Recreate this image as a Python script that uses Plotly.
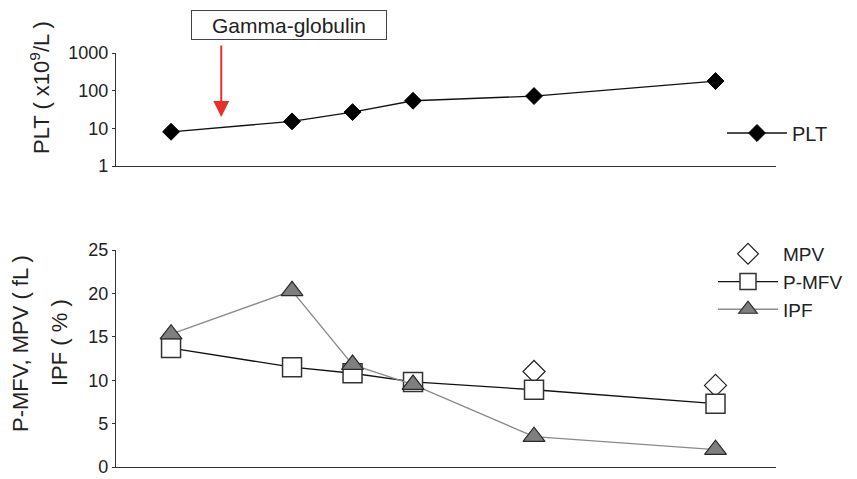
import plotly.graph_objects as go

# ---- data ----
time_points = [1, 3, 4, 5, 7, 10]
plt_vals = [8.1, 15.3, 27, 54, 72, 180]
mfv_vals = [13.7, 11.5, 10.8, 9.8, 8.9, 7.3]
ipf_vals = [15.3, 20.3, 11.8, 9.5, 3.5, 2.0]
mpv_x = [7, 10]
mpv_vals = [11.0, 9.4]
gamma_day = 1.83
top_ticks = [1, 10, 100, 1000]
bottom_ticks = [0, 5, 10, 15, 20, 25]

FONT = "Liberation Sans, Arial, sans-serif"
OFF = 8                      # page body margin
W, H = 857 - OFF, 479 - OFF  # figure size so it fits the window
L, R = 116 - OFF, 81
PW = W - L - R

def ypix(p):   # window pixel -> paper y
    return 1 - (p - OFF) / H

def xpix(p):   # window pixel -> paper x
    return (p - OFF - L) / PW

fig = go.Figure()

fig.add_trace(go.Scatter(
    x=time_points, y=plt_vals, mode="lines+markers", name="PLT",
    xaxis="x", yaxis="y", legend="legend",
    line=dict(color="#111111", width=1.3),
    marker=dict(symbol="diamond", size=13, color="#000000",
                line=dict(color="#000000", width=1)),
))

fig.add_trace(go.Scatter(
    x=mpv_x, y=mpv_vals, mode="markers", name="MPV",
    xaxis="x2", yaxis="y2", legend="legend2",
    marker=dict(symbol="diamond", size=17, color="white",
                line=dict(color="#222222", width=1.2)),
))
fig.add_trace(go.Scatter(
    x=time_points, y=mfv_vals, mode="lines+markers", name="P-MFV",
    xaxis="x2", yaxis="y2", legend="legend2",
    line=dict(color="#111111", width=1.3),
    marker=dict(symbol="square", size=19, color="white",
                line=dict(color="#333333", width=1.5)),
))
fig.add_trace(go.Scatter(
    x=time_points, y=ipf_vals, mode="lines+markers", name="IPF",
    xaxis="x2", yaxis="y2", legend="legend2",
    line=dict(color="#8a8a8a", width=1.3),
    marker=dict(symbol="triangle-up", size=19, color="#7f7f7f",
                line=dict(color="#2a2a2a", width=1.2)),
))

xr = [0.09, 11]
axis_common = dict(showline=True, linecolor="#333333", linewidth=1.2,
                   showgrid=False, zeroline=False, ticks="outside",
                   ticklen=3, tickcolor="#333333",
                   tickfont=dict(family=FONT, size=18, color="#222222"))

fig.update_layout(
    width=W, height=H,
    margin=dict(l=L, r=R, t=0, b=0, autoexpand=False),
    paper_bgcolor="white", plot_bgcolor="white",
    font=dict(family=FONT, color="#222222"),
    xaxis=dict(domain=[0, 1], range=xr, showline=True, linecolor="#333333",
               linewidth=1.2, showgrid=False, zeroline=False,
               showticklabels=False, ticks="", anchor="y"),
    yaxis=dict(domain=[ypix(166), ypix(53)], type="log", range=[0, 3],
               tickvals=top_ticks, ticktext=[str(t) for t in top_ticks],
               anchor="x", **axis_common),
    xaxis2=dict(domain=[0, 1], range=xr, showline=True, linecolor="#333333",
                linewidth=1.2, showgrid=False, zeroline=False,
                showticklabels=False, ticks="", anchor="y2"),
    yaxis2=dict(domain=[ypix(467), ypix(250)], range=[0, 25],
                tickvals=bottom_ticks, anchor="x2", **axis_common),
    legend=dict(x=xpix(722), y=ypix(133), xanchor="left", yanchor="middle",
                font=dict(family=FONT, size=20, color="#222222"),
                itemwidth=60, bgcolor="rgba(0,0,0,0)"),
    legend2=dict(x=xpix(713), y=ypix(235), xanchor="left", yanchor="top",
                 font=dict(family=FONT, size=19, color="#222222"),
                 itemwidth=60, bgcolor="rgba(0,0,0,0)", tracegroupgap=0),
    showlegend=True,
)

annotations = [
    dict(text="Gamma-globulin", xref="paper", yref="paper",
         x=xpix(289), y=ypix(25),
         xanchor="center", yanchor="middle", showarrow=False,
         font=dict(family=FONT, size=21, color="#222222"),
         bordercolor="#444444", borderwidth=1, borderpad=1,
         width=192, height=26, bgcolor="white"),
    dict(text="", x=gamma_day, y=1.30, xref="x", yref="y",
         ax=0, ay=-73, showarrow=True, arrowcolor="#e8302a",
         arrowwidth=2, arrowhead=2, arrowsize=1.6),
    dict(text="PLT ( x10<sup>9</sup>/L )", xref="paper", yref="paper",
         x=xpix(40), y=ypix(88), textangle=-90,
         xanchor="center", yanchor="middle", showarrow=False,
         font=dict(family=FONT, size=22, color="#222222")),
    dict(text="P-MFV, MPV ( fL )", xref="paper", yref="paper",
         x=xpix(20), y=ypix(344), textangle=-90,
         xanchor="center", yanchor="middle", showarrow=False,
         font=dict(family=FONT, size=22, color="#222222")),
    dict(text="IPF ( % )", xref="paper", yref="paper",
         x=xpix(59), y=ypix(343), textangle=-90,
         xanchor="center", yanchor="middle", showarrow=False,
         font=dict(family=FONT, size=22, color="#222222")),
]
fig.update_layout(annotations=annotations)

fig.write_html("out.html")
